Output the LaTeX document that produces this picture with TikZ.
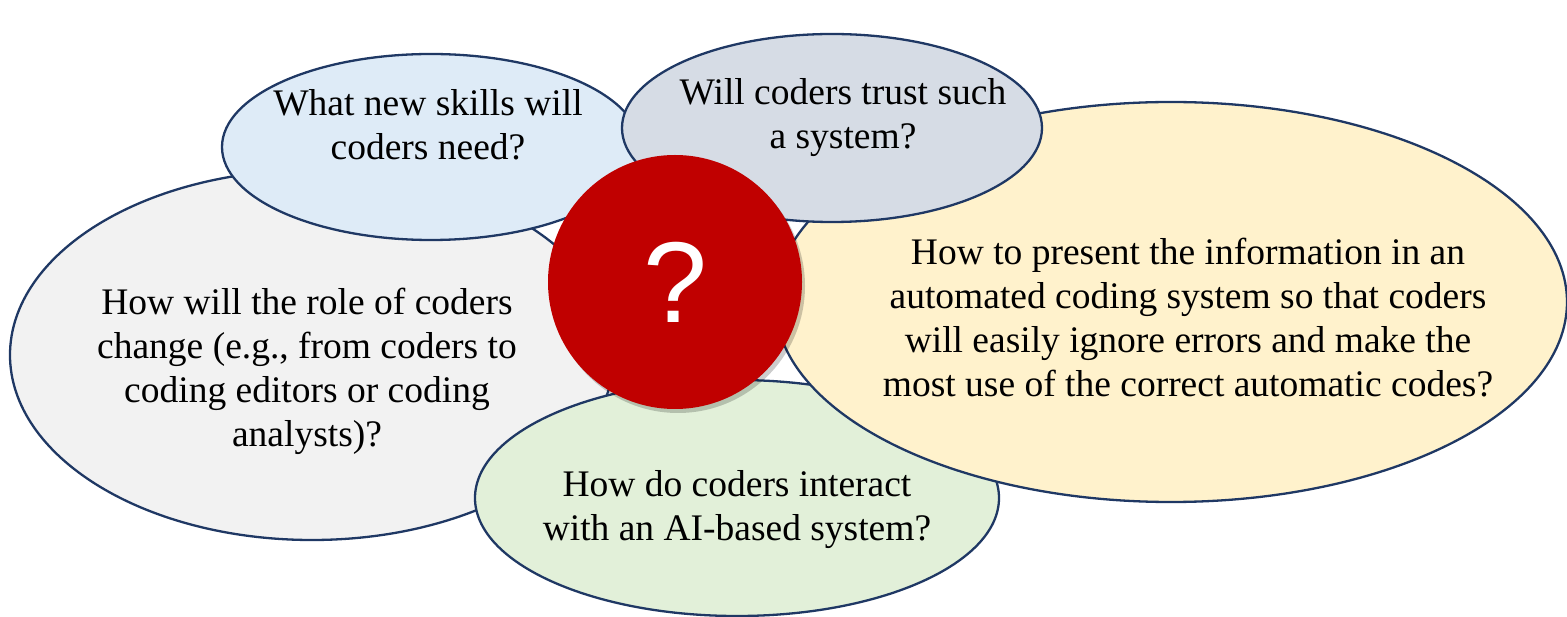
\documentclass[tikz,border=0pt]{standalone}
\usepackage{fontspec}
\setmainfont{Liberation Serif}
\newfontfamily\qfont{Liberation Sans}
\newfontfamily\tfont{Liberation Serif}
\usetikzlibrary{shapes.geometric,shadows}
\definecolor{edgec}{HTML}{1F3864}
\definecolor{grayf}{HTML}{F2F2F2}
\definecolor{bluef}{HTML}{DEEBF7}
\definecolor{slatef}{HTML}{D6DCE5}
\definecolor{yellowf}{HTML}{FFF2CC}
\definecolor{greenf}{HTML}{E2F0D9}
\definecolor{redf}{HTML}{C00000}
\tikzset{
  bubble/.style={ellipse, draw=edgec, line width=2.3pt, inner sep=0pt},
  qtext/.style={align=center, font=\tfont\fontsize{37.5}{44}\selectfont, text=black},
}
\begin{document}
\begin{tikzpicture}[x=1pt,y=-1pt]
\useasboundingbox (0,0) rectangle (1567,617);
\node[bubble, fill=grayf, minimum width=604pt, minimum height=370pt] (gray) at (312,355) {};
\node[bubble, fill=bluef, minimum width=418pt, minimum height=186pt] (blue) at (431,147) {};
\node[bubble, fill=greenf, minimum width=524pt, minimum height=236pt] (green) at (737,498) {};
\node[bubble, fill=yellowf, minimum width=792pt, minimum height=400pt] (yellow) at (1171,302) {};
\node[bubble, fill=slatef, minimum width=420pt, minimum height=188pt] (slate) at (832,128) {};
\node[circle, fill=redf, minimum size=254pt, inner sep=0pt,
  drop shadow={shadow xshift=3pt, shadow yshift=-4pt, opacity=0.2, fill=black}] (red) at (675,282) {};
\node[text=white, font=\qfont\fontsize{115}{115}\selectfont] (qmark) at (red.center) {?};
\node[qtext] (tgray) at (307,371) {How will the role of coders\\change (e.g., from coders to\\coding editors or coding\\analysts)?};
\node[qtext] (tblue) at (428,125) {What new skills will\\coders need?};
\node[qtext] (tslate) at (843,118) {Will coders trust such\\a system?};
\node[qtext] (tyellow) at (1188,318) {How to present the information in an\\automated coding system so that coders\\will easily ignore errors and make the\\most use of the correct automatic codes?};
\node[qtext] (tgreen) at (737,510) {How do coders interact\\with an AI-based system?};
\end{tikzpicture}
\end{document}
